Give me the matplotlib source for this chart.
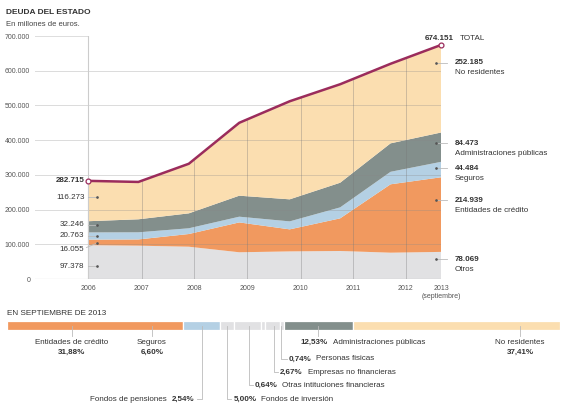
import numpy as np
import matplotlib
matplotlib.use('Agg')
import matplotlib.pyplot as plt
from matplotlib.lines import Line2D

plt.rcParams['font.family'] = ['Liberation Sans', 'DejaVu Sans']

# Deuda del Estado, millones de euros
years = ['2006', '2007', '2008', '2009', '2010', '2011', '2012', '2013']
otros = [97378, 96000, 93000, 77000, 79500, 80700, 75800, 78069]
entidades = [16055, 18000, 36600, 86000, 63500, 94000, 197000, 214939]
seguros = [20763, 20500, 16500, 16500, 23000, 31600, 36000, 44484]
aapp = [32246, 37500, 43000, 60500, 63500, 71000, 82000, 84473]
no_res = [116273, 107600, 142900, 210000, 282500, 283700, 229200, 252185]
# totales publicados (el ultimo difiere en 1 por redondeo)
total_2006 = 282715
total_2013 = 674151

# reparto en septiembre de 2013 (%)
bar_labels = ['Entidades de crédito', 'Seguros', 'Fondos de pensiones',
              'Fondos de inversión', 'Otras intituciones financieras',
              'Empresas no financieras', 'Personas fisicas',
              'Administraciones públicas', 'No residentes']
bar_pct = [31.88, 6.60, 2.54, 5.00, 0.64, 2.67, 0.74, 12.53, 37.41]

c_otros = '#e1e1e3'
c_ent = '#f1995f'
c_seg = '#b4d0e4'
c_aapp = '#838f8c'
c_nores = '#fbdeb0'
c_line = '#9b2c5c'
c_text = '#333333'
c_lead = '#bbbbbb'

W, H = 575, 412
def fx(px):
    return px / W
def fy(py):
    return 1 - py / H

def fmt(v):
    return f"{v:,.0f}".replace(',', '.')

def pct(v):
    return f"{v:.2f}".replace('.', ',') + '%'

fig = plt.figure(figsize=(W / 100, H / 100), dpi=100)

# ---- grafico de areas
ax = fig.add_axes([fx(35), fy(279), (441 - 35) / W, (279 - 36) / H])
x = np.arange(len(years))
layers = [otros, entidades, seguros, aapp, no_res]
ax.stackplot(x, layers, colors=[c_otros, c_ent, c_seg, c_aapp, c_nores],
             linewidth=0, zorder=2)
total = np.sum(layers, axis=0)
area = ax.fill_between(x, 0, total, color='none', linewidth=0)
clip = (area.get_paths()[0], ax.transData)

ax.set_xlim(-1.05, 7)
ax.set_ylim(0, 700000)
for s in ax.spines.values():
    s.set_visible(False)

yt = list(range(0, 700001, 100000))
ax.set_yticks(yt)
ax.set_yticklabels([fmt(v) for v in yt])
ax.tick_params(axis='y', length=0, pad=3.5, labelsize=5, labelcolor='#555555')

# posiciones de las etiquetas de los anos
xt = [0, 1.07, 2.108, 3.159, 4.218, 5.249, 6.30, 7]
ax.set_xticks(xt)
ax.set_xticklabels(years)
ax.tick_params(axis='x', length=0, pad=4.5, labelsize=5, labelcolor='#555555')
fig.text(fx(441), fy(296.7), '(septiembre)', fontsize=5, color='#555555',
         ha='center', va='center')

# rejilla
for v in yt[1:-1]:
    ax.axhline(v, color='#888888', alpha=0.3, lw=0.7, zorder=3)
ax.axhline(0, color='#aaaaaa', lw=0.8, zorder=3)
ax.plot([-1.05, 0], [700000, 700000], color='#dddddd', lw=0.7, zorder=3)
ax.plot([0, 0], [0, 700000], color='#cccccc', lw=0.8, zorder=3)
for p in xt[1:-1]:
    ln, = ax.plot([p, p], [0, 700000], color='#777777', alpha=0.35, lw=0.7, zorder=3)
    ln.set_clip_path(*clip)

ax.plot(x, total, color=c_line, lw=1.8, zorder=4, solid_capstyle='round')
ax.plot([x[0], x[-1]], [total[0], total[-1]], 'o', ms=3.5, mfc='white',
        mec=c_line, mew=0.9, zorder=5, clip_on=False)

# etiquetas izquierda (2006)
fig.text(fx(84.5), fy(180.7), fmt(total_2006), fontsize=5.8, fontweight='bold',
         color=c_text, ha='right', va='center')
left_y = [266.3, 249.3, 235.7, 225, 197.3]
for vals, py in zip(layers, left_y):
    fig.text(fx(84.5), fy(py), fmt(vals[0]), fontsize=5.8, color=c_text,
             ha='right', va='center')
    if py == 249.3:
        x0, y0, y1 = 86.5, 247.5, 243.3
    else:
        x0, y0, y1 = 87.5, py, py
    fig.add_artist(Line2D([fx(x0), fx(96.5)], [fy(y0), fy(y1)], color=c_lead,
                          lw=0.6, transform=fig.transFigure, zorder=6))
    fig.add_artist(Line2D([fx(97)], [fy(y1)], marker='o', ms=0.9, color='#555555',
                          transform=fig.transFigure, zorder=7))

# etiquetas derecha (2013)
fig.text(fx(439.5), fy(38.3), fmt(total_2013), fontsize=5.8, fontweight='bold',
         color=c_text, ha='center', va='center')
fig.text(fx(460), fy(38.3), 'TOTAL', fontsize=5.8, color=c_text, ha='left', va='center')
right_names = ['Otros', 'Entidades de crédito', 'Seguros',
               'Administraciones públicas', 'No residentes']
right_y = [259.3, 200, 168.3, 143.3, 62.7]
for vals, name, py in zip(layers, right_names, right_y):
    fig.text(fx(455), fy(py), fmt(vals[-1]), fontsize=5.8, fontweight='bold',
             color=c_text, ha='left', va='center')
    fig.text(fx(455), fy(py + 10), name, fontsize=5.8, color=c_text,
             ha='left', va='center')
    fig.add_artist(Line2D([fx(436), fx(447)], [fy(py), fy(py)], color=c_lead,
                          lw=0.6, transform=fig.transFigure, zorder=6))
    fig.add_artist(Line2D([fx(435.7)], [fy(py)], marker='o', ms=0.9, color='#555555',
                          transform=fig.transFigure, zorder=7))

# titulos
fig.text(fx(6), fy(12.7), 'DEUDA DEL ESTADO', fontsize=6, fontweight='bold',
         color=c_text, ha='left', va='center')
fig.text(fx(6), fy(24.3), 'En millones de euros.', fontsize=5.5, color='#444444',
         ha='left', va='center')

# ---- barra de septiembre de 2013
fig.text(fx(6.7), fy(313.3), 'EN SEPTIEMBRE DE 2013', fontsize=5.9, color=c_text,
         ha='left', va='center')
bx = fig.add_axes([fx(6.7), fy(330), (560 - 6.7) / W, 9 / H])
bar_colors = [c_ent, c_seg, c_otros, c_otros, c_otros, c_otros, c_otros, c_aapp, c_nores]
left = np.concatenate([[0], np.cumsum(bar_pct)[:-1]])
bx.barh([0] * len(bar_pct), bar_pct, left=left, height=1, color=bar_colors,
        edgecolor='white', linewidth=0.9)
bx.set_xlim(0, sum(bar_pct))
bx.set_ylim(-0.5, 0.5)
bx.axis('off')

def lead(pts):
    xs, ys = zip(*pts)
    fig.add_artist(Line2D([fx(p) for p in xs], [fy(p) for p in ys], color=c_lead,
                          lw=0.6, transform=fig.transFigure, zorder=6))

# etiquetas centradas bajo la barra
for i, cx in [(0, 72), (1, 152), (8, 520)]:
    lead([(cx, 326), (cx, 336)])
    fig.text(fx(cx), fy(342.7), bar_labels[i], fontsize=5.8, color=c_text,
             ha='center', va='center')
    fig.text(fx(cx), fy(352.7), pct(bar_pct[i]), fontsize=5.8, fontweight='bold',
             color=c_text, ha='center', va='center')

# administraciones publicas
lead([(318, 326), (318, 336)])
fig.text(fx(300.5), fy(342.7), pct(bar_pct[7]), fontsize=5.8, fontweight='bold',
         color=c_text, ha='left', va='center')
fig.text(fx(333.3), fy(342.7), bar_labels[7], fontsize=5.8, color=c_text,
         ha='left', va='center')

# fondos de pensiones (texto a la izquierda)
lead([(201.5, 326), (201.5, 399.3), (197, 399.3)])
fig.text(fx(194.5), fy(399.3), pct(bar_pct[2]), fontsize=5.8, fontweight='bold',
         color=c_text, ha='right', va='center')
fig.text(fx(166.5), fy(399.3), bar_labels[2], fontsize=5.8, color=c_text,
         ha='right', va='center')

# resto, texto a la derecha
for i, lx, py, tx in [(3, 227, 399.3, 233.5), (4, 249, 385.3, 255),
                      (5, 274.3, 372.3, 280), (6, 281, 359, 289)]:
    lead([(lx, 326), (lx, py), (tx - 2.5, py)])
    fig.text(fx(tx), fy(py), pct(bar_pct[i]), fontsize=5.8, fontweight='bold',
             color=c_text, ha='left', va='center')
    fig.text(fx(tx + 27.5), fy(py), bar_labels[i], fontsize=5.8, color=c_text,
             ha='left', va='center')

fig.savefig('out.png', dpi=100, facecolor='white')
